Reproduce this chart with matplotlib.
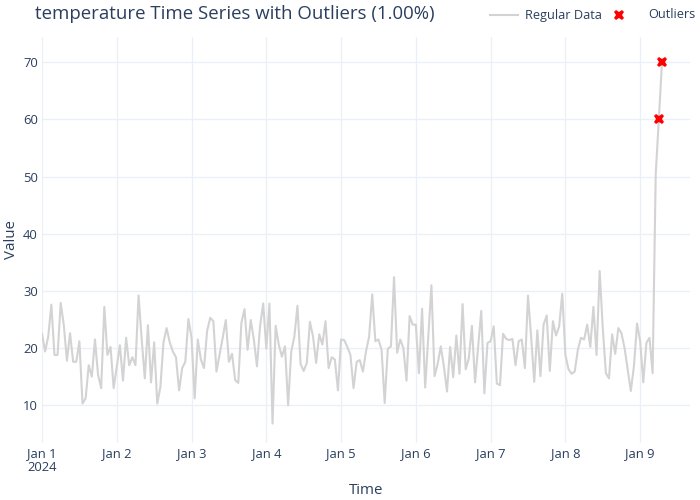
import matplotlib
matplotlib.use("Agg")
import matplotlib.pyplot as plt
import matplotlib.lines as mlines
import numpy as np
import pandas as pd

plt.rcParams['font.family'] = ['Open Sans', 'DejaVu Sans']

# hourly readings starting 2024-01-01 00:00
start = "2024-01-01"
values = [
    22.5, 19.4, 22, 27.6, 18.8, 18.8, 27.9, 24, 17.8, 22.6,
    17.6, 17.6, 21.2, 10.3, 11.2, 17, 15, 21.5, 15.3, 13,
    27.2, 18.8, 20.2, 13, 16.8, 20.5, 14.3, 21.8, 17, 18.4,
    17, 29.2, 21.5, 14.7, 24, 14, 21, 10.3, 13.2, 21,
    23.5, 21, 19.4, 18.4, 12.6, 16.5, 17.6, 25.1, 21.8, 11.2,
    21.5, 18, 16.5, 23, 25.3, 24.7, 15.9, 18.8, 21.8, 24.9,
    17.6, 19, 14.4, 13.9, 24.4, 26.8, 19.7, 24.9, 21.5, 16.8,
    23.8, 27.8, 19.9, 27.8, 6.8, 23.9, 20.6, 18.5, 20.3, 10,
    19.4, 22, 27.4, 17.2, 16, 17.4, 24.6, 22, 17.4, 22.4,
    20.6, 24.7, 16.5, 18.4, 18, 12.6, 21.5, 21.4, 20.2, 18.8,
    13, 17.6, 17.9, 15.9, 19.4, 22, 29.4, 21.2, 21.5, 19.7,
    10.4, 19.9, 20.3, 32.4, 19.2, 21.5, 20, 14.3, 25.6, 24.1,
    24.1, 15.6, 26.9, 13.1, 22, 31, 15.1, 17.2, 20.3, 16.8,
    12.4, 20.2, 14.9, 22.2, 15.5, 27.7, 16.3, 18.2, 23.9, 14,
    20.3, 26.5, 12.1, 20.9, 21.2, 23.8, 13.8, 13.5, 22.5, 21.6,
    21.4, 21.6, 17, 21.2, 21.5, 16.5, 29.2, 22, 14.1, 23.1,
    15.1, 24.1, 25.7, 16, 24.7, 22.2, 23.8, 29.5, 18.8, 16.3,
    15.5, 15.9, 19.7, 21.8, 21.5, 24.1, 20.2, 27.2, 18.8, 33.5,
    23.5, 15.6, 14.7, 22.4, 19, 23.5, 22.6, 20, 16.2, 12.5,
    16.8, 24.3, 21.2, 14, 20.9, 21.8, 15.6, 50.5, 60, 70,
]
outlier_idx = [198, 199]

times = pd.date_range(start, periods=len(values), freq="h")
vals = np.array(values)

text_color = "#2a3f5f"
grid_color = "#EBF0F8"

fig = plt.figure(figsize=(7, 5), dpi=100)
ax = fig.add_axes([42 / 700, 1 - 443 / 500, 648 / 700, 406 / 500])

ax.plot(times, vals, color="lightgray", lw=1.5, zorder=2)
ax.plot(times[outlier_idx], vals[outlier_idx], linestyle="none", marker="X",
        color="red", markersize=7.5, markeredgewidth=0, zorder=3)

ax.set_ylim(3.4, 74.4)
ax.set_xlim(times[0], times[0] + pd.Timedelta(hours=208))
ax.set_yticks([10, 20, 30, 40, 50, 60, 70])

days = pd.date_range(start, periods=9, freq="D")
ax.set_xticks(days)
ax.set_xticklabels([d.strftime("%b ") + str(d.day) + ("\n2024" if i == 0 else "")
                    for i, d in enumerate(days)], linespacing=1.05)

for s in ax.spines.values():
    s.set_visible(False)
ax.grid(True, color=grid_color, lw=1)
ax.set_axisbelow(True)
ax.tick_params(length=0, labelsize=9.4, colors=text_color, pad=3)

ax.set_xlabel("Time", fontsize=10.8, color=text_color, labelpad=7)
ax.set_ylabel("Value", fontsize=10.8, color=text_color, labelpad=3)

fig.text(35 / 700, 1 - 14 / 500, "temperature Time Series with Outliers (1.00%)",
         fontsize=13.4, color=text_color, ha="left", va="center")

# legend drawn by hand, plotly-style horizontal layout
ly = 1 - 15 / 500
fig.add_artist(mlines.Line2D([490 / 700, 518 / 700], [ly, ly],
                             color="lightgray", lw=1.5))
fig.text(525 / 700, ly, "Regular Data", fontsize=9.2, color=text_color,
         ha="left", va="center")
fig.add_artist(mlines.Line2D([619 / 700], [ly], color="red", marker="X",
                             linestyle="none", markersize=7.5,
                             markeredgewidth=0))
fig.text(648 / 700, ly, "Outliers", fontsize=9.2, color=text_color,
         ha="left", va="center")

fig.savefig("out.png", dpi=100)
